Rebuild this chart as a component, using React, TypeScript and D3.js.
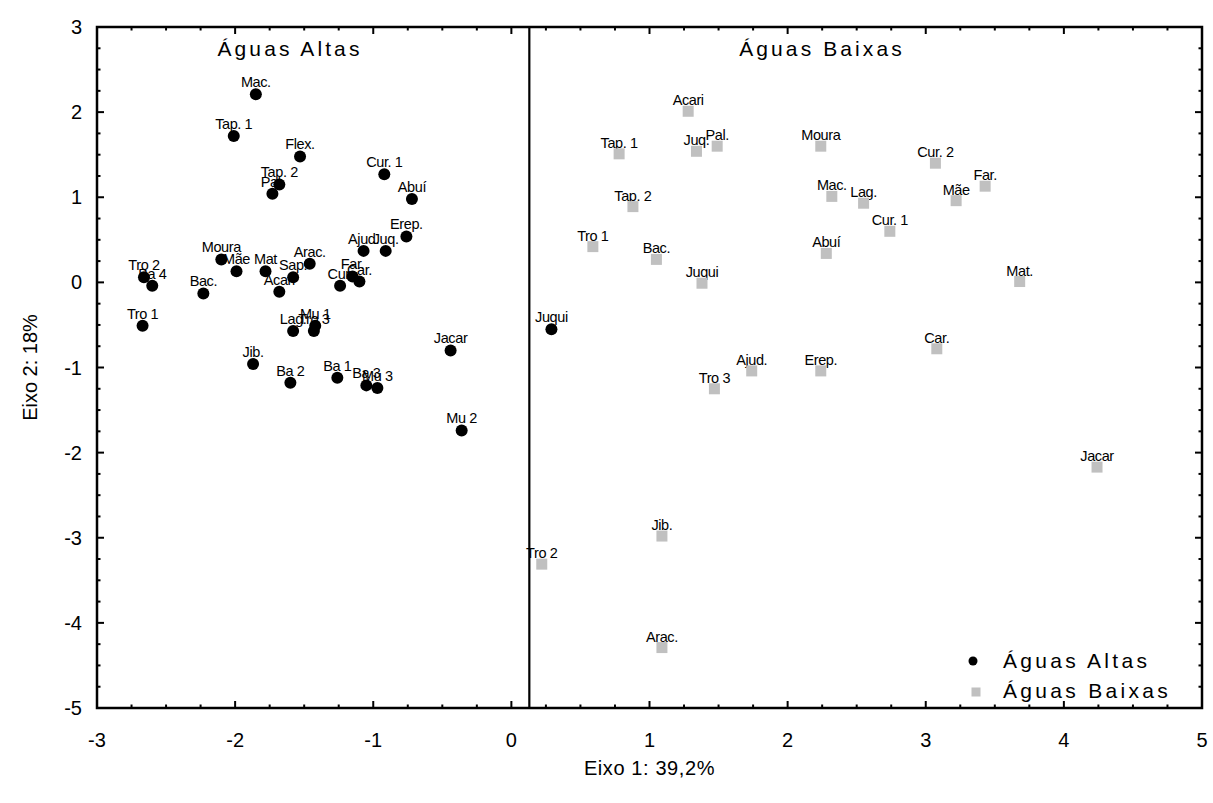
import React from "react";
import * as d3 from "d3";

// Scores on the first two ordination axes, high-water samples
const altasLabels = [
  "Mac.", "Tap. 1", "Flex.", "Cur. 1", "Tap. 2", "Pal.", "Abuí", "Erep.",
  "Ajud.", "Juq.", "Moura", "Mãe", "Mat", "Arac.", "Sap.", "Acari",
  "Tro 2", "Ba 4", "Bac.", "Cur.", "Far.", "Car.", "Tro 1", "Lag.",
  "Mu 1", "Tro 3", "Jib.", "Ba 2", "Ba 1", "Ba 3", "Mu 3", "Jacar",
  "Mu 2", "Juqui",
];
const altasX = [
  -1.85, -2.01, -1.53, -0.92, -1.68, -1.73, -0.72, -0.76,
  -1.07, -0.91, -2.10, -1.99, -1.78, -1.46, -1.58, -1.68,
  -2.66, -2.60, -2.23, -1.24, -1.15, -1.10, -2.67, -1.58,
  -1.42, -1.43, -1.87, -1.60, -1.26, -1.05, -0.97, -0.44,
  -0.36, 0.29,
];
const altasY = [
  2.21, 1.72, 1.48, 1.27, 1.15, 1.04, 0.98, 0.54,
  0.37, 0.37, 0.27, 0.13, 0.13, 0.22, 0.06, -0.11,
  0.06, -0.04, -0.13, -0.04, 0.07, 0.01, -0.51, -0.57,
  -0.51, -0.57, -0.96, -1.18, -1.12, -1.21, -1.24, -0.80,
  -1.74, -0.55,
];

// Scores on the first two ordination axes, low-water samples
const baixasLabels = [
  "Acari", "Tap. 1", "Juq.", "Pal.", "Moura", "Cur. 2", "Far.", "Mac.",
  "Lag.", "Mãe", "Tap. 2", "Cur. 1", "Tro 1", "Bac.", "Abuí", "Juqui",
  "Mat.", "Car.", "Ajud.", "Erep.", "Tro 3", "Jacar", "Jib.", "Tro 2",
  "Arac.",
];
const baixasX = [
  1.28, 0.78, 1.34, 1.49, 2.24, 3.07, 3.43, 2.32,
  2.55, 3.22, 0.88, 2.74, 0.59, 1.05, 2.28, 1.38,
  3.68, 3.08, 1.74, 2.24, 1.47, 4.24, 1.09, 0.22,
  1.09,
];
const baixasY = [
  2.01, 1.51, 1.54, 1.60, 1.60, 1.40, 1.13, 1.01,
  0.93, 0.96, 0.89, 0.60, 0.42, 0.27, 0.34, -0.01,
  0.01, -0.78, -1.04, -1.04, -1.25, -2.17, -2.98, -3.31,
  -4.29,
];

const xTicks = [-3, -2, -1, 0, 1, 2, 3, 4, 5];
const yTicks = [3, 2, 1, 0, -1, -2, -3, -4, -5];
const dividerX = 0.13;

const W = 1213;
const H = 803;
const FONT = "'Liberation Sans', Arial, sans-serif";
const GRAY = "#c0c0c0";

export default function App() {
  const left = 97, right = 1202, top = 27, bottom = 708;
  const x = d3.scaleLinear().domain([-3, 5]).range([left, right]);
  const y = d3.scaleLinear().domain([-5, 3]).range([bottom, top]);

  const xMinor = d3.range(-3, 5.001, 0.25).filter((v) => !xTicks.includes(Math.round(v * 100) / 100));
  const yMinor = d3.range(-5, 3.001, 0.25).filter((v) => !yTicks.includes(Math.round(v * 100) / 100));

  const altas = altasLabels.map((n, i) => ({ n, x: altasX[i], y: altasY[i] }));
  const baixas = baixasLabels.map((n, i) => ({ n, x: baixasX[i], y: baixasY[i] }));

  const majorLen = 7, minorLen = 3.5;

  return (
    <svg width={W} height={H} style={{ display: "block", position: "absolute", left: 0, top: 0, background: "#fff" }}>
      <rect x={0} y={0} width={W} height={H} fill="#fff" />

      {/* inward ticks on all four sides */}
      <g stroke="#000" strokeWidth={2}>
        {xTicks.map((t) => (
          <g key={"xt" + t}>
            <line x1={x(t)} x2={x(t)} y1={bottom} y2={bottom - majorLen} />
            <line x1={x(t)} x2={x(t)} y1={top} y2={top + majorLen} />
          </g>
        ))}
        {xMinor.map((t) => (
          <g key={"xm" + t}>
            <line x1={x(t)} x2={x(t)} y1={bottom} y2={bottom - minorLen} />
            <line x1={x(t)} x2={x(t)} y1={top} y2={top + minorLen} />
          </g>
        ))}
        {yTicks.map((t) => (
          <g key={"yt" + t}>
            <line x1={left} x2={left + majorLen} y1={y(t)} y2={y(t)} />
            <line x1={right} x2={right - majorLen} y1={y(t)} y2={y(t)} />
          </g>
        ))}
        {yMinor.map((t) => (
          <g key={"ym" + t}>
            <line x1={left} x2={left + minorLen} y1={y(t)} y2={y(t)} />
            <line x1={right} x2={right - minorLen} y1={y(t)} y2={y(t)} />
          </g>
        ))}
      </g>

      {/* divider between the two hydrological periods */}
      <line x1={x(dividerX)} x2={x(dividerX)} y1={top} y2={bottom} stroke="#000" strokeWidth={2.2} />

      <rect x={left} y={top} width={right - left} height={bottom - top} fill="none" stroke="#000" strokeWidth={2.5} />

      {/* tick labels */}
      <g fontFamily={FONT} fontSize={20} fill="#000">
        {xTicks.map((t) => (
          <text key={"xl" + t} x={x(t)} y={747} textAnchor="middle">{t}</text>
        ))}
        {yTicks.map((t) => (
          <text key={"yl" + t} x={82} y={y(t) + 7} textAnchor="end">{t}</text>
        ))}
      </g>

      {/* axis titles */}
      <text x={(left + right) / 2} y={775} textAnchor="middle" fontFamily={FONT} fontSize={20} letterSpacing={0.6}>
        Eixo 1: 39,2%
      </text>
      <text transform={`translate(37, ${(top + bottom) / 2}) rotate(-90)`} textAnchor="middle" fontFamily={FONT} fontSize={20}>
        Eixo 2: 18%
      </text>

      {/* period headings */}
      <g fontFamily={FONT} fontSize={21} letterSpacing={3.1}>
        <text x={290} y={56} textAnchor="middle">Águas Altas</text>
        <text x={822} y={56} textAnchor="middle">Águas Baixas</text>
      </g>

      {/* point labels */}
      <g fontFamily={FONT} fontSize={14.5} letterSpacing={-0.4} fill="#000">
        {altas.map((d, i) => (
          <text key={"al" + i} x={x(d.x)} y={y(d.y) - 7} textAnchor="middle">{d.n}</text>
        ))}
        {baixas.map((d, i) => (
          <text key={"bl" + i} x={x(d.x)} y={y(d.y) - 6} textAnchor="middle">{d.n}</text>
        ))}
      </g>

      {/* markers */}
      <g>
        {baixas.map((d, i) => (
          <rect key={"bm" + i} x={x(d.x) - 5.5} y={y(d.y) - 5.5} width={11} height={11} fill={GRAY} />
        ))}
        {altas.map((d, i) => (
          <circle key={"am" + i} cx={x(d.x)} cy={y(d.y)} r={6} fill="#000" />
        ))}
      </g>

      {/* legend */}
      <g fontFamily={FONT} fontSize={21} letterSpacing={3.3}>
        <circle cx={973} cy={661} r={4.5} fill="#000" />
        <text x={1003} y={668}>Águas Altas</text>
        <rect x={971.5} y={687.5} width={9} height={9} fill={GRAY} />
        <text x={1003} y={698}>Águas Baixas</text>
      </g>
    </svg>
  );
}
